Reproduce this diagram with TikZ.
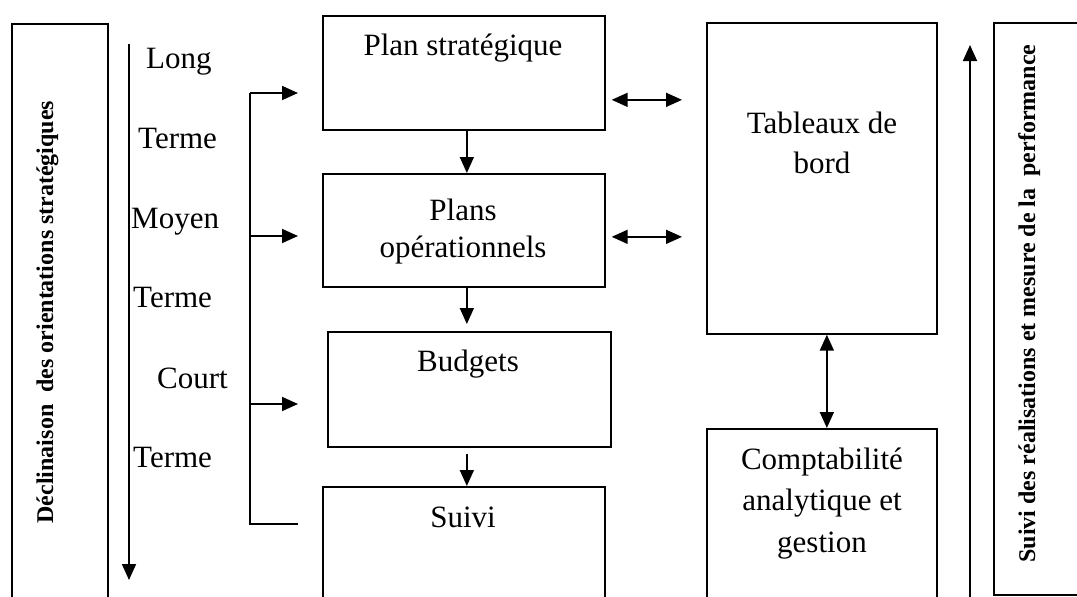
\documentclass[tikz,border=0pt]{standalone}
\usepackage{fontspec}
\setmainfont{Liberation Serif}
\usetikzlibrary{arrows.meta}
\tikzset{
  box/.style={draw, line width=1.7pt, inner sep=0pt, anchor=north west},
  txt/.style={inner sep=0pt, font=\fontsize{31}{37}\selectfont},
  side/.style={inner sep=0pt, rotate=90, anchor=base, font=\bfseries\fontsize{24}{28}\selectfont},
  arr/.style={-{Triangle[length=16pt,width=14pt]}, line width=1.7pt},
  darr/.style={{Triangle[length=16pt,width=14pt]}-{Triangle[length=16pt,width=14pt]}, line width=1.7pt},
  plain/.style={line width=1.7pt}
}
\begin{document}
\begin{tikzpicture}[x=1pt,y=-1pt]
\useasboundingbox (0,0) rectangle (1077,597);
\clip (0,0) rectangle (1077,597);
% side boxes
\node[box, minimum width=96pt, minimum height=640pt] (lbox) at (11,23) {};
\node[box, minimum width=120pt, minimum height=572pt] (rbox) at (993,22) {};
\node[side] (ltxt) at (53,312) {Déclinaison~ des orientations stratégiques};
\node[side] (rtxt) at (1035,303.5) {Suivi des réalisations et mesure de la~ performance};
% main boxes
\node[box, minimum width=282pt, minimum height=114pt] (ps) at (322,15) {};
\node[box, minimum width=282pt, minimum height=113pt] (po) at (322,173) {};
\node[box, minimum width=283pt, minimum height=115pt] (bu) at (327,331) {};
\node[box, minimum width=282pt, minimum height=150pt] (su) at (322,486) {};
\node[box, minimum width=230pt, minimum height=311pt] (tb) at (706,22) {};
\node[box, minimum width=230pt, minimum height=220pt] (ca) at (706,428) {};
% box texts
\node[txt, anchor=base] (t1) at (463,55) {Plan stratégique};
\node[txt, anchor=base] (t2) at (463,220) {Plans};
\node[txt, anchor=base] (t3) at (463,257) {opérationnels};
\node[txt, anchor=base] (t4) at (468,371) {Budgets};
\node[txt, anchor=base] (t5) at (463,527) {Suivi};
\node[txt, anchor=base] (t6) at (822,133) {Tableaux de};
\node[txt, anchor=base] (t7) at (822,173) {bord};
\node[txt, anchor=base] (t8) at (822,469) {Comptabilité};
\node[txt, anchor=base] (t9) at (822,510) {analytique et};
\node[txt, anchor=base] (t10) at (822,552) {gestion};
% term labels
\node[txt, anchor=base west] (l1) at (146,68) {Long};
\node[txt, anchor=base west] (l2) at (138,148) {Terme};
\node[txt, anchor=base west] (l3) at (131,228) {Moyen};
\node[txt, anchor=base west] (l4) at (133,307) {Terme};
\node[txt, anchor=base west] (l5) at (157,388) {Court};
\node[txt, anchor=base west] (l6) at (133,467) {Terme};
% left and right long arrows
\coordinate (la1) at (129,44);
\coordinate (la2) at (129,580);
\coordinate (ra1) at (970,620);
\coordinate (ra2) at (970,45);
\draw[arr] (la1) -- (la2);
\draw[arr] (ra1) -- (ra2);
% bracket
\coordinate (b1) at (250,93);
\coordinate (b2) at (250,236);
\coordinate (b3) at (250,404);
\coordinate (b4) at (250,524);
\coordinate (e1) at (298,93);
\coordinate (e2) at (298,236);
\coordinate (e3) at (298,404);
\coordinate (e4) at (298,524);
\draw[plain] (b1) -- (b4) -- (e4);
\draw[arr] (b1) -- (e1);
\draw[arr] (b2) -- (e2);
\draw[arr] (b3) -- (e3);
% vertical flow arrows
\draw[arr] ([xshift=3pt]ps.south) -- ([xshift=3pt]po.north);
\draw[arr] ([xshift=3pt]po.south) -- ([xshift=-2.5pt,yshift=7pt]bu.north);
\draw[arr] ([xshift=-2.5pt,yshift=-6pt]bu.south) -- ([xshift=3pt]su.north);
% double arrows
\draw[darr] ([xshift=6pt,yshift=-27pt]ps.east) -- ([xshift=-24pt,yshift=78.5pt]tb.west);
\draw[darr] ([xshift=6pt,yshift=-6.5pt]po.east) -- ([xshift=-24pt,yshift=-58.5pt]tb.west);
\draw[darr] ([xshift=5pt]tb.south) -- ([xshift=5pt]ca.north);
\end{tikzpicture}
\end{document}
